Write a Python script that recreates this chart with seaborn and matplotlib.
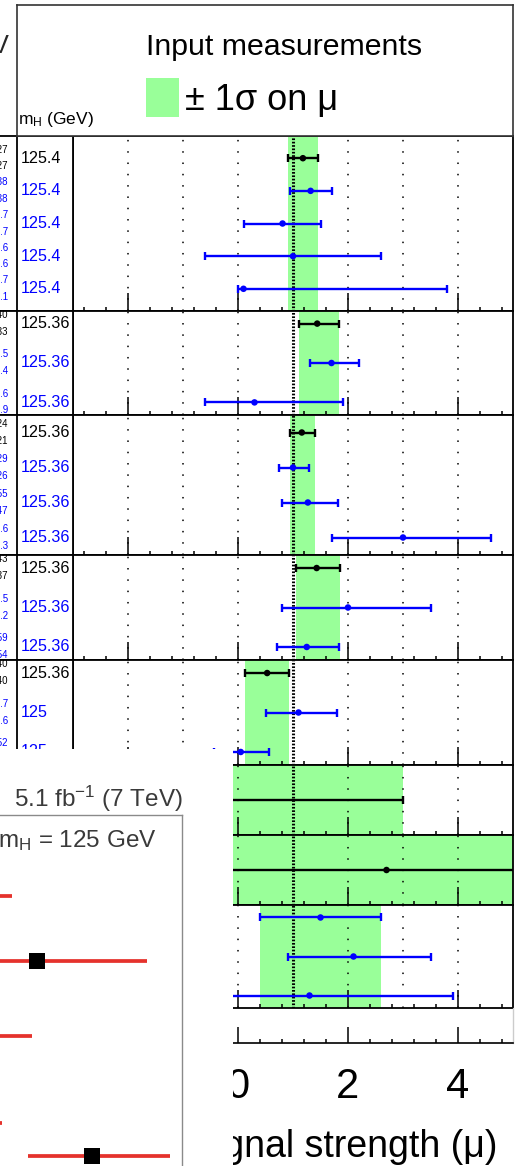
import numpy as np
import pandas as pd
import matplotlib
matplotlib.use("Agg")
import matplotlib.pyplot as plt
import matplotlib.transforms as mtransforms
from matplotlib.patches import Rectangle
from matplotlib.ticker import MultipleLocator
import seaborn as sns

sns.set_theme(style="white")
plt.rcParams["font.family"] = ["Liberation Sans", "DejaVu Sans"]
plt.rcParams["mathtext.default"] = "regular"

# ---------------- input measurements: signal strength mu with +/- errors ----------------
p1_mh = ["125.4", "125.4", "125.4", "125.4", "125.4"]
p1_mu = [1.18, 1.32, 0.81, 1.0, 0.1]
p1_up = [0.27, 0.38, 0.7, 1.6, 3.7]
p1_dn = [0.27, 0.38, 0.7, 1.6, 0.1]
p1_kind = ["comb", "input", "input", "input", "input"]
p1_dec = [2, 2, 1, 1, 1]

p2_mh = ["125.36", "125.36", "125.36"]
p2_mu = [1.44, 1.7, 0.3]
p2_up = [0.40, 0.5, 1.6]
p2_dn = [0.33, 0.4, 0.9]
p2_kind = ["comb", "input", "input"]
p2_dec = [2, 1, 1]

p3_mh = ["125.36", "125.36", "125.36", "125.36"]
p3_mu = [1.16, 1.0, 1.27, 3.0]
p3_up = [0.24, 0.29, 0.55, 1.6]
p3_dn = [0.21, 0.26, 0.47, 1.3]
p3_kind = ["comb", "input", "input", "input"]
p3_dec = [2, 2, 2, 1]

p4_mh = ["125.36", "125.36", "125.36"]
p4_mu = [1.43, 2.0, 1.25]
p4_up = [0.43, 1.5, 0.59]
p4_dn = [0.37, 1.2, 0.54]
p4_kind = ["comb", "input", "input"]
p4_dec = [2, 1, 2]

p5_mh = ["125.36", "125", "125"]
p5_mu = [0.53, 1.1, 0.05]
p5_up = [0.40, 0.7, 0.52]
p5_dn = [0.40, 0.6, 0.49]
p5_kind = ["comb", "input", "input"]
p5_dec = [2, 1, 2]

p6_mh = ["125"]
p6_mu = [-0.2]
p6_up = [3.2]
p6_dn = [2.8]
p6_kind = ["comb"]
p6_dec = [1]

p7_mh = ["125"]
p7_mu = [2.7]
p7_up = [3.0]
p7_dn = [3.4]
p7_kind = ["comb"]
p7_dec = [1]

p8_mh = ["125", "125", "125"]
p8_mu = [1.5, 2.1, 1.3]
p8_up = [1.1, 1.4, 2.6]
p8_dn = [1.1, 1.2, 1.8]
p8_kind = ["input", "input", "input"]
p8_dec = [1, 1, 1]

# second (7 TeV) summary panel in the lower left
cms_mu = [-0.4, 1.1, 0.0, -0.6, 2.2]
cms_up = [1.0, 2.2, 1.0, 1.0, 1.56]
cms_dn = [1.3, 1.0, 1.2, 1.0, 1.28]
cms_pos = [0, 2, 4.3, 7, 8]

x_major = 2
x_minor = 0.4
grid_x = [-2, -1, 0, 2, 3, 4]
mu_ref = 1.0

# ---------------- styling ----------------
GREEN = "#99ff99"
COL = {"comb": "black", "input": "#0000ff"}
CMS_RED = "#e5322c"
W, H = 520, 1166
X0, X1 = 73, 513
COVER_TOP = 749
edges = [136, 311, 415, 555, 660, 765, 835, 905, 1008]
pads = [0.68, 0.32, 0.5, 0.33, 0.33, 0.5, 0.5, 0.32]


def rect(x0, y0, x1, y1):
    return [x0 / W, 1 - y1 / H, (x1 - x0) / W, (y1 - y0) / H]


fig = plt.figure(figsize=(W / 100, H / 100), dpi=100)

panels = [
    (p1_mh, p1_mu, p1_up, p1_dn, p1_kind, p1_dec),
    (p2_mh, p2_mu, p2_up, p2_dn, p2_kind, p2_dec),
    (p3_mh, p3_mu, p3_up, p3_dn, p3_kind, p3_dec),
    (p4_mh, p4_mu, p4_up, p4_dn, p4_kind, p4_dec),
    (p5_mh, p5_mu, p5_up, p5_dn, p5_kind, p5_dec),
    (p6_mh, p6_mu, p6_up, p6_dn, p6_kind, p6_dec),
    (p7_mh, p7_mu, p7_up, p7_dn, p7_kind, p7_dec),
    (p8_mh, p8_mu, p8_up, p8_dn, p8_kind, p8_dec),
]


def style_xaxis(ax, major_len, minor_len):
    ax.set_xlim(-3, 5)
    ax.xaxis.set_major_locator(MultipleLocator(x_major))
    ax.xaxis.set_minor_locator(MultipleLocator(x_minor))
    ax.tick_params(axis="x", which="both", direction="in", bottom=True, top=False,
                   color="black", width=1.1)
    ax.tick_params(axis="x", which="major", length=major_len)
    ax.tick_params(axis="x", which="minor", length=minor_len)


for i, (mh, mu, up, dn, kind, dec) in enumerate(panels):
    top, bot = edges[i], edges[i + 1]
    df = pd.DataFrame({"mh": mh, "mu": mu, "up": up, "dn": dn, "kind": kind, "dec": dec})
    df["pos"] = np.arange(len(df))
    ylim = (len(df) - 1 + pads[i], -pads[i])

    ax = fig.add_axes(rect(X0, top, X1, bot))
    ax.set_facecolor("white")
    first = df.iloc[0]
    ax.axvspan(first.mu - first.dn, first.mu + first.up, color=GREEN, lw=0, zorder=0)
    ax.vlines(grid_x, 0, 1, transform=ax.get_xaxis_transform(), colors="black",
              lw=1.1, linestyles=[(0, (1.0, 6.4))], zorder=1)
    ax.axvline(mu_ref, color="black", lw=2.2, ls=(0, (0.55, 0.55)), zorder=2)
    for k, g in df.groupby("kind"):
        ax.errorbar(g.mu, g.pos, xerr=[g.dn, g.up], fmt="none", ecolor=COL[k],
                    elinewidth=1.7, capsize=3.0, capthick=1.7, zorder=3)
    sns.scatterplot(data=df, x="mu", y="pos", hue="kind", palette=COL, s=22,
                    edgecolor="none", legend=False, ax=ax, zorder=4)
    style_xaxis(ax, 13, 3.2)
    ax.tick_params(axis="x", labelbottom=False)
    ax.set_ylim(*ylim)
    ax.set_yticks([])
    ax.set_xlabel("")
    ax.set_ylabel("")
    for s in ax.spines.values():
        s.set_color("black")
        s.set_linewidth(1.3)

    # left columns: mH values and the +/- errors
    lab = fig.add_axes(rect(0, top, X0, bot))
    lab.set_xlim(0, X0)
    lab.set_ylim(*ylim)
    lab.set_xticks([])
    lab.set_yticks([])
    lab.set_facecolor("white")
    lab.spines["left"].set_visible(False)
    for s in ["top", "bottom", "right"]:
        lab.spines[s].set_color("black")
        lab.spines[s].set_linewidth(1.3)
    lab.axvline(17, color="black", lw=1.3)
    if top >= COVER_TOP:
        continue
    t_up = mtransforms.offset_copy(lab.transData, fig=fig, y=6.2, units="points")
    t_dn = mtransforms.offset_copy(lab.transData, fig=fig, y=-5.8, units="points")
    for r in df.itertuples():
        c = COL[r.kind]
        lab.text(21, r.pos, r.mh, color=c, fontsize=11.6, ha="left", va="center")
        lab.text(8.5, r.pos, f"+{r.up:.{r.dec}f}", color=c, fontsize=7,
                 ha="right", va="center", transform=t_up)
        lab.text(8.5, r.pos, f"\u2212{r.dn:.{r.dec}f}", color=c, fontsize=7,
                 ha="right", va="center", transform=t_dn)

# header box with legend
hdr = fig.add_axes(rect(17, 5, X1, edges[0]))
hdr.set_xticks([])
hdr.set_yticks([])
hdr.set_facecolor("white")
for s in hdr.spines.values():
    s.set_color("#333333")
    s.set_linewidth(1.2)
fig.text(145.5 / W, 1 - 55 / H, "Input measurements", fontsize=21.8,
         ha="left", va="baseline", color="black")
fig.add_artist(Rectangle((145.7 / W, 1 - 116.7 / H), 33.3 / W, 38.4 / H,
                         transform=fig.transFigure, color=GREEN, lw=0))
fig.text(185 / W, 1 - 110 / H, "\u00b1 1\u03c3 on \u03bc", fontsize=26,
         ha="left", va="baseline", color="black")
fig.text(18.5 / W, 1 - 124 / H, r"m$_{H}$ (GeV)", fontsize=12.5,
         ha="left", va="baseline", color="black")
fig.text(9 / W, 1 - 53 / H, "8 TeV", fontsize=18.4, ha="right", va="baseline")

# shared x axis
axb = fig.add_axes(rect(X0, edges[-1], X1, 1043))
axb.set_facecolor("none")
style_xaxis(axb, 11.5, 3.0)
axb.tick_params(axis="x", labelsize=30, pad=17, labelcolor="black")
axb.set_yticks([])
for s in ["top", "left"]:
    axb.spines[s].set_visible(False)
axb.spines["bottom"].set_color("black")
axb.spines["bottom"].set_linewidth(1.2)
axb.spines["right"].set_color("#cccccc")
axb.spines["right"].set_linewidth(1.0)
fig.text(498 / W, 1 - 1157 / H, "Signal strength (\u03bc)", fontsize=27,
         ha="right", va="baseline", color="black")

# lower-left 7 TeV summary panel
cover = fig.add_axes(rect(0, COVER_TOP, 232.5, H))
cover.set_facecolor("white")
cover.set_xticks([])
cover.set_yticks([])
for s in cover.spines.values():
    s.set_visible(False)
cover.set_zorder(5)

ins = fig.add_axes(rect(-218, 815, 182, H))
ins.set_zorder(6)
ins.set_facecolor("white")
ins.set_xticks([])
ins.set_yticks([])
for s in ["left", "bottom"]:
    ins.spines[s].set_visible(False)
for s in ["top", "right"]:
    ins.spines[s].set_color("#8a8a8a")
    ins.spines[s].set_linewidth(1.0)
cms = pd.DataFrame({"mu": cms_mu, "up": cms_up, "dn": cms_dn, "pos": cms_pos})
ins.errorbar(cms.mu, cms.pos, xerr=[cms.dn, cms.up], fmt="none", ecolor=CMS_RED,
             elinewidth=2.7, capsize=0, zorder=3)
sns.scatterplot(data=cms, x="mu", y="pos", marker="s", s=120, color="black",
                edgecolor="none", legend=False, ax=ins, zorder=4)
ins.set_xlim(-4, 4)
ins.set_ylim(8.31, -2.49)
ins.set_xlabel("")
ins.set_ylabel("")
ins.text(1.0025, 1.0228, r"5.1 fb$^{-1}$ (7 TeV)", transform=ins.transAxes,
         fontsize=17.5, ha="right", va="baseline", color="#3a3a3a")
ins.text(0.9375, 0.9088, r"m$_{H}$ = 125 GeV", transform=ins.transAxes,
         fontsize=17.5, ha="right", va="baseline", color="#3a3a3a")

fig.savefig("out.png", dpi=100)
